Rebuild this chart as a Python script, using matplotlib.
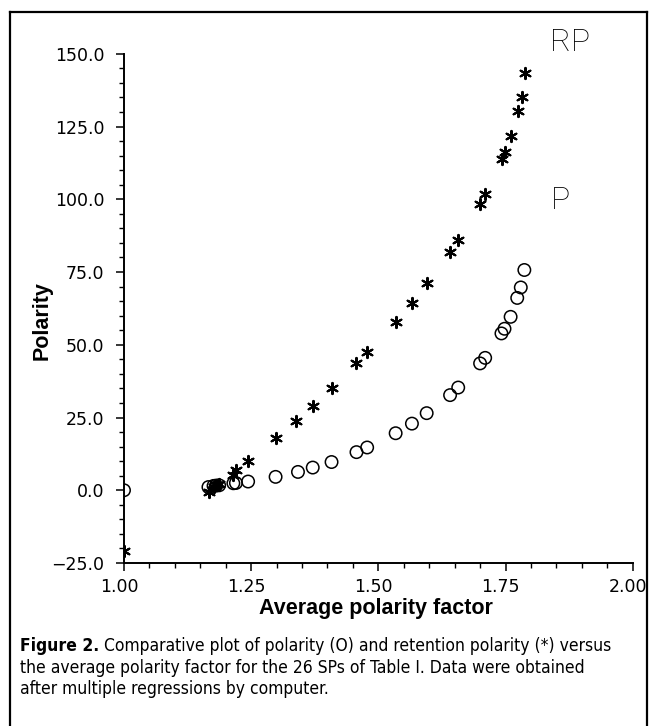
import matplotlib
matplotlib.use("Agg")
import matplotlib.pyplot as plt
from matplotlib.ticker import MultipleLocator, FuncFormatter
from matplotlib.lines import Line2D
from matplotlib import font_manager
import matplotlib.transforms as mtransforms

# polarity (P) values, open circles
p_x = [1.000, 1.166, 1.176, 1.181, 1.187, 1.215, 1.220, 1.244, 1.298, 1.342,
       1.371, 1.408, 1.457, 1.478, 1.534, 1.566, 1.595, 1.641, 1.657, 1.700,
       1.710, 1.742, 1.748, 1.760, 1.773, 1.780, 1.787]
p_y = [0.0, 1.1, 1.5, 1.6, 1.7, 2.4, 2.5, 3.0, 4.6, 6.3,
       7.8, 9.7, 13.1, 14.7, 19.6, 22.9, 26.5, 32.7, 35.3, 43.6,
       45.5, 53.9, 55.5, 59.6, 66.1, 69.7, 75.7]

# retention polarity (RP) values, asterisks
rp_x = [1.000, 1.167, 1.176, 1.181, 1.187, 1.215, 1.220, 1.244, 1.298, 1.339,
        1.371, 1.408, 1.457, 1.478, 1.534, 1.566, 1.596, 1.641, 1.657, 1.700,
        1.710, 1.743, 1.749, 1.760, 1.775, 1.782, 1.789]
rp_y = [-20.9, -0.5, 1.2, 1.8, 2.3, 5.2, 6.9, 10.0, 17.8, 23.8,
        28.9, 35.1, 43.6, 47.4, 57.9, 64.5, 71.3, 81.9, 86.0, 98.4,
        101.9, 113.7, 116.1, 121.7, 130.2, 135.1, 143.4]

caption_bold = "Figure 2."
caption_lines = [
    " Comparative plot of polarity (O) and retention polarity (*) versus",
    "the average polarity factor for the 26 SPs of Table I. Data were obtained",
    "after multiple regressions by computer.",
]

W, H = 650, 726
fig = plt.figure(figsize=(W / 100, H / 100), dpi=100)
ax = fig.add_axes([124 / W, 1 - 563 / H, (632.7 - 124) / W, (563 - 53.8) / H])

ax.scatter(p_x, p_y, s=80, facecolors="none", edgecolors="black", linewidths=1.1, zorder=3)
ax.scatter(rp_x, rp_y, s=65, marker=(6, 2, 0), color="black", linewidths=1.5, zorder=4)

ax.set_xlim(1.0, 2.0)
ax.set_ylim(-25, 150)
ax.xaxis.set_major_locator(MultipleLocator(0.25))
ax.xaxis.set_minor_locator(MultipleLocator(0.05))
ax.yaxis.set_major_locator(MultipleLocator(25))
ax.yaxis.set_minor_locator(MultipleLocator(5))
ax.xaxis.set_major_formatter(FuncFormatter(lambda v, p: f"{v:.2f}"))
ax.yaxis.set_major_formatter(FuncFormatter(lambda v, p: f"{v:.1f}".replace("-", "\u2212")))

for side in ["top", "right"]:
    ax.spines[side].set_visible(False)
for side in ["left", "bottom"]:
    ax.spines[side].set_linewidth(1.4)

ax.tick_params(which="major", direction="out", length=6, width=1.1, labelsize=12.5)
ax.tick_params(which="minor", direction="out", length=3.6, width=1.0)
ax.tick_params(axis="x", which="major", pad=5)
ax.tick_params(axis="y", which="major", pad=8)

# x tick labels sit a little left of their ticks
shift = mtransforms.ScaledTranslation(-5 / 100, 0, fig.dpi_scale_trans)
for lab in ax.get_xticklabels():
    lab.set_transform(lab.get_transform() + shift)

ax.text(1.837, 151.1, "RP", fontsize=23, family=["Roboto", "DejaVu Sans"],
        fontweight="light", va="baseline", ha="left")
ax.text(1.839, 96.7, "P", fontsize=23, family=["Roboto", "DejaVu Sans"],
        fontweight="light", va="baseline", ha="left")

fig.text(376 / W, 1 - 614 / H, "Average polarity factor", fontsize=15.5,
         family=["Liberation Sans", "DejaVu Sans"], fontweight="bold",
         ha="center", va="baseline")
fig.text(42 / W, 1 - 321 / H, "Polarity", fontsize=15.5, rotation=90,
         family=["Liberation Sans", "DejaVu Sans"], fontweight="bold",
         ha="center", va="center")

# frame around figure and caption
kw = dict(transform=fig.transFigure, color="black", linewidth=1.6)
fig.add_artist(Line2D([10 / W, 647 / W], [1 - 12 / H, 1 - 12 / H], **kw))
fig.add_artist(Line2D([10 / W, 10 / W], [0, 1 - 12 / H], **kw))
fig.add_artist(Line2D([647 / W, 647 / W], [0, 1 - 12 / H], **kw))


# caption in a condensed face if one is installed
def find_narrow(bold):
    hits = []
    for f in font_manager.fontManager.ttflist:
        narrow = ("Narrow" in f.name or "Condensed" in f.name
                  or f.stretch in ("condensed", "semi-condensed", "extra-condensed"))
        if not narrow or f.style != "normal":
            continue
        w = f.weight if isinstance(f.weight, int) else 400
        if bold and w >= 600 or (not bold and 350 <= w <= 500):
            hits.append(f)
    hits.sort(key=lambda f: f.fname)
    if hits:
        return font_manager.FontProperties(fname=hits[0].fname)
    return font_manager.FontProperties(family="Liberation Sans",
                                       weight="bold" if bold else "normal")


reg_fp = find_narrow(False)
bold_fp = find_narrow(True)

# pick the size so that the two full lines fit 20..612 px
renderer = fig.canvas.get_renderer()
p1 = fig.text(0, 0.5, caption_bold, fontproperties=bold_fp, fontsize=14)
p2 = fig.text(0, 0.5, caption_lines[0], fontproperties=reg_fp, fontsize=14)
p3 = fig.text(0, 0.5, caption_lines[1], fontproperties=reg_fp, fontsize=14)
w1 = p1.get_window_extent(renderer).width + p2.get_window_extent(renderer).width
w2 = p3.get_window_extent(renderer).width
size = 14 * 592 / max(w1, w2)
for p in (p1, p2, p3):
    p.remove()

baselines = [651, 673, 694]
bold = fig.text(20 / W, 1 - baselines[0] / H, caption_bold, fontproperties=bold_fp,
                fontsize=size, va="baseline")
bw = bold.get_window_extent(renderer).width
fig.text((20 + bw) / W, 1 - baselines[0] / H, caption_lines[0], fontproperties=reg_fp,
         fontsize=size, va="baseline")
for line, b in zip(caption_lines[1:], baselines[1:]):
    fig.text(20 / W, 1 - b / H, line, fontproperties=reg_fp, fontsize=size, va="baseline")

fig.savefig("out.png", dpi=100)
